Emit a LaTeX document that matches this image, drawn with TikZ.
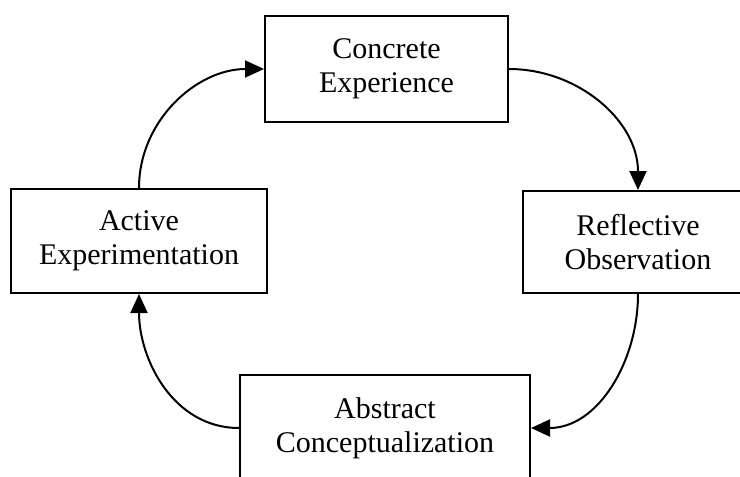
\documentclass[tikz,border=0pt]{standalone}
\usepackage{fontspec}
\setmainfont{Liberation Serif}
\usetikzlibrary{arrows.meta}
\tikzset{
  stagebox/.style={draw=black, line width=2pt, fill=white, inner sep=0pt, align=center,
    font=\fontsize{30}{34}\selectfont},
  cycarrow/.style={line width=2pt, -{Triangle[length=19pt,width=17pt]}}
}
\begin{document}
\begin{tikzpicture}[x=1pt,y=-1pt]
\useasboundingbox (0,0) rectangle (740,477);
\fill[white] (0,0) rectangle (740,477);
\clip (0,0) rectangle (740,477);
\node[stagebox, minimum width=243pt, minimum height=106pt] (ce) at (386.5,69) {Concrete\\Experience};
\node[stagebox, minimum width=256pt, minimum height=104pt] (ae) at (139,241) {Active\\Experimentation};
\node[stagebox, minimum width=230pt, minimum height=102pt] (ro) at (638,242) {Reflective\\Observation};
\node[stagebox, minimum width=290pt, minimum height=106pt] (ac) at (385,428) {Abstract\\Conceptualization};
\draw[cycarrow] (ce.east) to[out=0,in=90] (ro.north);
\draw[cycarrow] (ro.south) to[out=-90,in=0] (ac.east);
\draw[cycarrow] (ac.west) to[out=180,in=-90] (ae.south);
\draw[cycarrow] (ae.north) to[out=90,in=180] (ce.west);
\end{tikzpicture}
\end{document}
